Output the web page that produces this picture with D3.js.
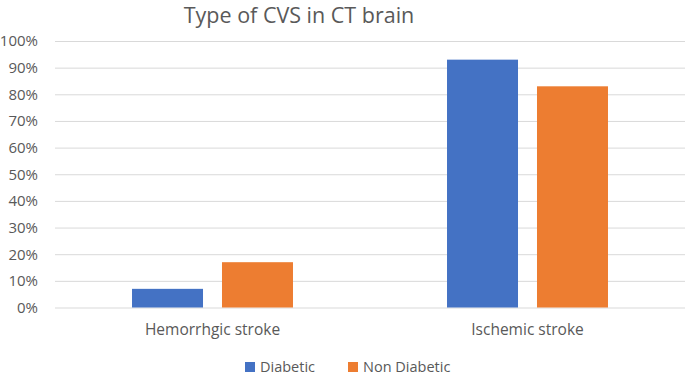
<!DOCTYPE html>
<html>
<head>
<meta charset="utf-8">
<script src="https://cdn.jsdelivr.net/npm/d3@7"></script>
<style>
  html, body { margin: 0; padding: 0; background: #fff; }
  svg { display: block; }
  text { font-family: "Open Sans", "Noto Sans", sans-serif; fill: #595959; }
</style>
</head>
<body>
<svg id="chart" width="685" height="377"></svg>
<script>
const title = "Type of CVS in CT brain";
const categories = ["Hemorrhgic stroke", "Ischemic stroke"];
const seriesNames = ["Diabetic", "Non Diabetic"];
const diabetic = [0.07, 0.93];
const nonDiabetic = [0.17, 0.83];
const yTicks = [0, 0.1, 0.2, 0.3, 0.4, 0.5, 0.6, 0.7, 0.8, 0.9, 1.0];
const colors = ["#4472C4", "#ED7D31"];

(function () {
const seriesValues = [diabetic, nonDiabetic];
const data = categories.map((c, i) => ({
  category: c,
  values: seriesNames.map((s, j) => ({ series: s, value: seriesValues[j][i] }))
}));

const svg = d3.select("#chart");
const plotLeft = 55, plotRight = 685, plotTop = 41, plotBottom = 307.5;

const x0 = d3.scaleBand().domain(categories).range([plotLeft, plotRight])
  .paddingInner(0.489).paddingOuter(0.2445);
const x1 = d3.scaleBand().domain(seriesNames).range([0, x0.bandwidth()])
  .paddingInner(0.211).paddingOuter(0);
const y = d3.scaleLinear().domain([0, 1]).range([plotBottom, plotTop]);
const color = d3.scaleOrdinal().domain(seriesNames).range(colors);

// gridlines + y labels
const yAxis = d3.axisLeft(y).tickValues(yTicks)
  .tickFormat(d3.format(".0%"))
  .tickSize(-(plotRight - plotLeft)).tickPadding(17);
const gy = svg.append("g").attr("transform", `translate(${plotLeft},0)`).call(yAxis);
gy.select(".domain").remove();
gy.selectAll(".tick line").attr("stroke", "#d9d9d9").attr("stroke-width", 1);
gy.selectAll(".tick text").style("font-size", "15px").attr("fill", "#595959");

// bars
const groups = svg.append("g").selectAll("g").data(data).join("g")
  .attr("transform", d => `translate(${x0(d.category)},0)`);
groups.selectAll("rect").data(d => d.values).join("rect")
  .attr("x", d => x1(d.series))
  .attr("width", x1.bandwidth())
  .attr("y", d => y(d.value))
  .attr("height", d => y(0) - y(d.value))
  .attr("fill", d => color(d.series));

// x axis labels
const xAxis = d3.axisBottom(x0).tickSize(0).tickPadding(16);
const gx = svg.append("g").attr("transform", `translate(0,${plotBottom})`).call(xAxis);
gx.select(".domain").remove();
gx.selectAll(".tick text").style("font-size", "15.5px").attr("fill", "#595959");

// title
svg.append("text").attr("x", 299).attr("y", 23)
  .attr("text-anchor", "middle").style("font-size", "21.5px")
  .text(title);

// legend
const legendX = d3.scalePoint().domain(seriesNames).range([245, 348]);
const lg = svg.append("g").selectAll("g").data(seriesNames).join("g")
  .attr("transform", d => `translate(${legendX(d)},362)`);
lg.append("rect").attr("width", 10).attr("height", 10).attr("fill", d => color(d));
lg.append("text").attr("x", 15).attr("y", 5).attr("dy", "0.35em")
  .style("font-size", "14.5px").text(d => d);
})();
</script>
</body>
</html>
